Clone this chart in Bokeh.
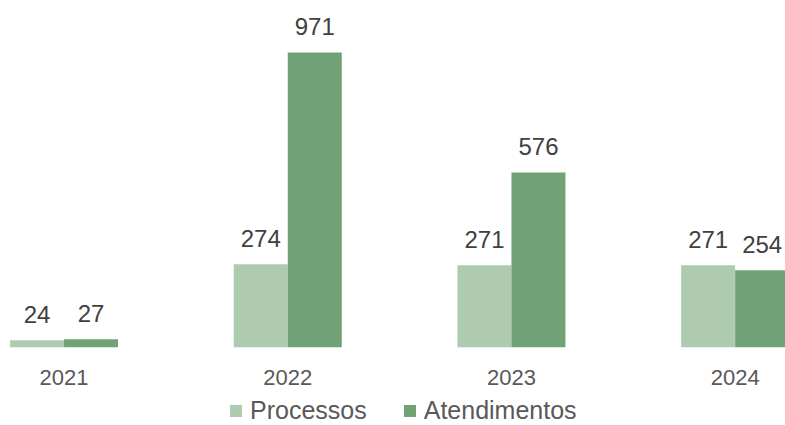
from bokeh.plotting import figure
from bokeh.layouts import column
from bokeh.models import ColumnDataSource, Range1d, FixedTicker, Legend, LegendItem
from bokeh.core.properties import value
from bokeh.embed import file_html
from bokeh.resources import INLINE

years = ["2021", "2022", "2023", "2024"]
processos = [24, 274, 271, 271]
atendimentos = [27, 971, 576, 254]
series_names = ["Processos", "Atendimentos"]

LIGHT = "#AECBAF"
DARK = "#70A276"
FONT = "Liberation Sans"

xs = list(range(len(years)))
off = 0.1207
bw = 0.2414

src_p = ColumnDataSource(dict(x=[i - off for i in xs], top=processos,
                              lbl=[str(v) for v in processos]))
src_a = ColumnDataSource(dict(x=[i + off for i in xs], top=atendimentos,
                              lbl=[str(v) for v in atendimentos]))

p = figure(width=785, height=393, output_backend="svg", toolbar_location=None,
           x_range=Range1d(-0.284, 3.225), y_range=Range1d(0, 1142),
           min_border_left=0, min_border_right=0, min_border_top=0, min_border_bottom=46)

p.vbar(x="x", top="top", width=bw, source=src_p, fill_color=LIGHT, line_color=None)
p.vbar(x="x", top="top", width=bw, source=src_a, fill_color=DARK, line_color=None)

for src in (src_p, src_a):
    p.text(x="x", y="top", text="lbl", source=src, text_align="center",
           text_baseline="alphabetic", y_offset=-26, text_font=value(FONT),
           text_font_size="24px", text_color="#404040")

p.xgrid.visible = False
p.ygrid.visible = False
p.yaxis.visible = False
p.outline_line_color = None

ax = p.xaxis[0]
ax.ticker = FixedTicker(ticks=xs)
ax.major_label_overrides = {i: y for i, y in zip(xs, years)}
ax.axis_line_color = None
ax.major_tick_line_color = None
ax.minor_tick_line_color = None
ax.major_tick_out = 0
ax.major_tick_in = 0
ax.major_label_standoff = 22
ax.major_label_text_font = FONT
ax.major_label_text_font_size = "22px"
ax.major_label_text_color = "#595959"

# legend-only strip
q = figure(width=785, height=32, output_backend="svg", toolbar_location=None,
           x_range=Range1d(0, 1), y_range=Range1d(0, 1),
           min_border_left=0, min_border_right=0, min_border_top=0, min_border_bottom=0)
q.axis.visible = False
q.grid.visible = False
q.outline_line_color = None
d1 = q.vbar(x=[-10], top=[0], width=0.1, fill_color=LIGHT, line_color=None)
d2 = q.vbar(x=[-10], top=[0], width=0.1, fill_color=DARK, line_color=None)

legend = Legend(items=[LegendItem(label=series_names[0], renderers=[d1]),
                       LegendItem(label=series_names[1], renderers=[d2])],
                orientation="horizontal", location=(228, 0),
                padding=0, margin=0, spacing=35, label_standoff=7,
                glyph_width=15, glyph_height=15,
                label_text_font=FONT, label_text_font_size="25px",
                label_text_color="#595959", border_line_color=None,
                background_fill_alpha=0)
q.add_layout(legend, "center")

layout = column(p, q, spacing=0)
open("out.html", "w").write(file_html(layout, INLINE))
